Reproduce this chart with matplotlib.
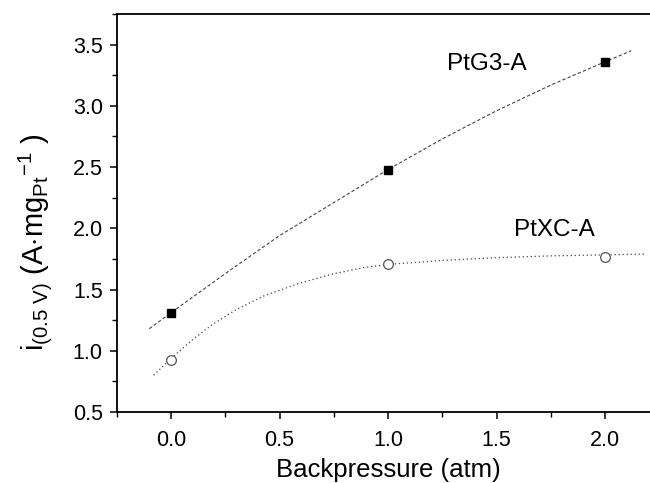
import matplotlib
matplotlib.use("Agg")
import matplotlib.pyplot as plt
from matplotlib.ticker import MultipleLocator

plt.rcParams['font.family'] = ['Liberation Sans', 'DejaVu Sans']
plt.rcParams['mathtext.fontset'] = 'custom'
plt.rcParams['mathtext.rm'] = 'Liberation Sans'
plt.rcParams['mathtext.it'] = 'Liberation Sans'

# measured points
pressure = [0.0, 1.0, 2.0]
ptg3 = [1.305, 2.48, 3.356]
ptxc = [0.924, 1.706, 1.765]

# fitted curves
ptg3_fit_x = [-0.10, 0.0, 0.25, 0.5, 0.75, 1.0, 1.25, 1.5, 1.75, 2.0, 2.12]
ptg3_fit_y = [1.18, 1.31, 1.63, 1.94, 2.21, 2.48, 2.73, 2.96, 3.17, 3.36, 3.45]
ptxc_fit_x = [-0.08, 0.0, 0.05, 0.10, 0.15, 0.20, 0.30, 0.43, 0.59, 0.74, 0.89,
              1.0, 1.27, 1.5, 1.75, 2.0, 2.19]
ptxc_fit_y = [0.80, 0.935, 1.015, 1.09, 1.16, 1.225, 1.335, 1.45, 1.55, 1.625, 1.68,
              1.705, 1.74, 1.76, 1.775, 1.783, 1.79]

fig = plt.figure(figsize=(6.5, 4.83), dpi=100)
ax = fig.add_axes([0.1795, 0.147, 0.835, 0.824])

ax.plot(ptg3_fit_x, ptg3_fit_y, color='#444444', lw=0.8, dashes=(3, 2))
ax.plot(ptxc_fit_x, ptxc_fit_y, color='#444444', lw=0.9, dashes=(1, 2.2))
ax.plot(pressure, ptg3, 's', color='black', ms=6, zorder=3)
ax.plot(pressure, ptxc, 'o', mfc='white', mec='#555555', mew=0.9, ms=7, zorder=3)

ax.text(1.455, 3.343, 'PtG3-A', fontsize=17.5, ha='center', va='center')
ax.text(1.765, 1.99, 'PtXC-A', fontsize=17.5, ha='center', va='center')

ax.set_xlim(-0.25, 2.25)
ax.set_ylim(0.5, 3.75)
ax.xaxis.set_major_locator(MultipleLocator(0.5))
ax.xaxis.set_minor_locator(MultipleLocator(0.25))
ax.yaxis.set_major_locator(MultipleLocator(0.5))
ax.yaxis.set_minor_locator(MultipleLocator(0.25))
ax.xaxis.set_major_formatter(plt.FormatStrFormatter('%.1f'))
ax.yaxis.set_major_formatter(plt.FormatStrFormatter('%.1f'))
ax.tick_params(which='major', direction='out', length=5, width=1.1, labelsize=15.5)
ax.tick_params(which='minor', direction='out', length=3.5, width=1.0)
ax.tick_params(axis='x', pad=8)
ax.tick_params(axis='y', pad=5)
for s in ['left', 'bottom', 'top']:
    ax.spines[s].set_linewidth(1.3)
ax.spines['right'].set_visible(False)

ax.set_xlabel('Backpressure (atm)', fontsize=18.5, labelpad=5)
fig.text(35 / 650, 1 - 242 / 483,
         r'i$_{(0.5\ V)}$ (A$\cdot$mg$_{Pt}$$^{-1}$ )',
         rotation=90, fontsize=21, ha='center', va='center')

fig.savefig('out.png', dpi=100)
